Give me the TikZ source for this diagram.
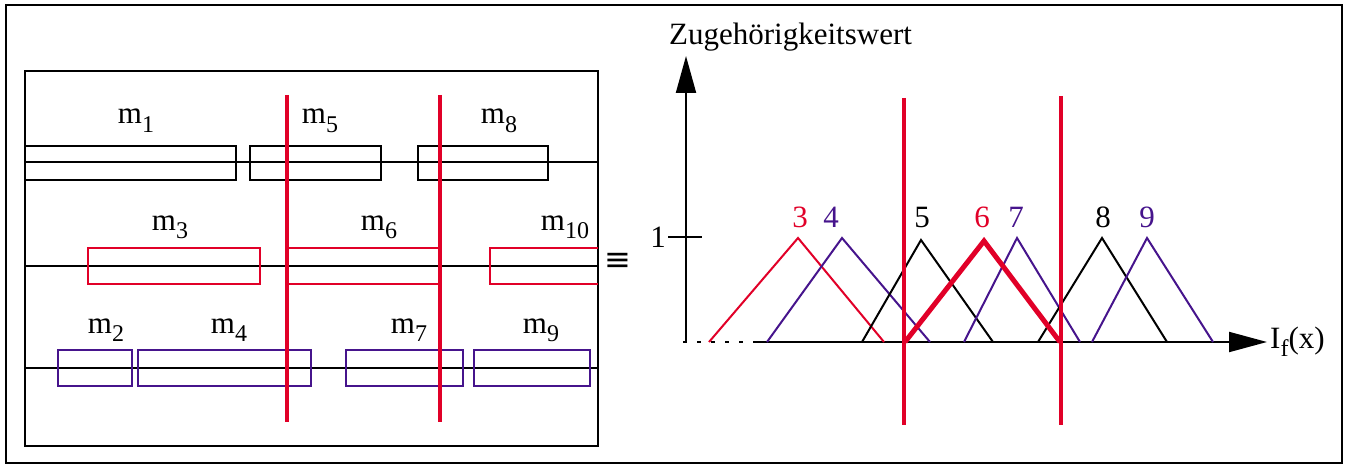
\documentclass[tikz,border=0pt]{standalone}
\usepackage{fontspec}
\setmainfont{Liberation Serif}
\newfontfamily\symfont{DejaVu Sans}
\usetikzlibrary{arrows.meta}
\definecolor{fred}{RGB}{225,0,40}
\definecolor{fpurple}{RGB}{70,20,140}
\newcommand\sbs[1]{\raisebox{-0.27em}{\fontsize{24}{24}\selectfont #1}}
\tikzset{
  lbl/.style={inner sep=0pt, font=\fontsize{31}{36}\selectfont},
  frame/.style={draw=black, line width=2pt},
  rowline/.style={draw=black, line width=2pt},
  bbox/.style={draw=black, line width=2pt},
  rbox/.style={draw=fred, line width=2pt},
  pbox/.style={draw=fpurple, line width=2pt},
  cut/.style={draw=fred, line width=4.5pt},
  tri/.style={line width=2pt, line join=miter},
  axis/.style={draw=black, line width=2pt},
}
\begin{document}
\begin{tikzpicture}[x=1pt,y=-1pt]
\useasboundingbox (0,0) rectangle (1352,468);
% outer frame
\draw[frame] (6,5) rectangle (1342,463);
% inner box
\draw[frame] (25,71) rectangle (598,446);
% row lines
\draw[rowline] (25,162) -- (598,162);
\draw[rowline] (25,266) -- (598,266);
\draw[rowline] (25,368) -- (598,368);
% row 1 boxes
\draw[bbox] (25,146) rectangle (236,180);
\draw[bbox] (250,146) rectangle (381,180);
\draw[bbox] (418,146) rectangle (548,180);
% row 2 boxes
\draw[rbox] (88,248) rectangle (260,284);
\draw[rbox] (287,248) rectangle (440,284);
\draw[rbox] (598,248) -- (490,248) -- (490,284) -- (598,284);
% row 3 boxes
\draw[pbox] (58,350) rectangle (132,386);
\draw[pbox] (138,350) rectangle (311,386);
\draw[pbox] (346,350) rectangle (463,386);
\draw[pbox] (474,350) rectangle (590,386);
% red cut lines left
\draw[cut] (287,95) -- (287,422);
\draw[cut] (440,95) -- (440,422);
% labels left
\node[lbl, anchor=base] (m1) at (136,124) {m\sbs{1}};
\node[lbl, anchor=base] (m5) at (320,124) {m\sbs{5}};
\node[lbl, anchor=base] (m8) at (499,124) {m\sbs{8}};
\node[lbl, anchor=base] (m3) at (170,230) {m\sbs{3}};
\node[lbl, anchor=base] (m6) at (379,230) {m\sbs{6}};
\node[lbl, anchor=base] (m10) at (565,230) {m\sbs{10}};
\node[lbl, anchor=base] (m2) at (106,333) {m\sbs{2}};
\node[lbl, anchor=base] (m4) at (229,333) {m\sbs{4}};
\node[lbl, anchor=base] (m7) at (409,333) {m\sbs{7}};
\node[lbl, anchor=base] (m9) at (541,333) {m\sbs{9}};
% equivalence
\node[inner sep=0pt, font=\symfont\fontsize{32}{36}\selectfont] (eq) at (618,262) {≡};
% axes
\coordinate (o) at (686,342);
\coordinate (ytip) at (686,56);
\coordinate (xs) at (757,342);
\coordinate (xtip) at (1267,342);
\coordinate (xd) at (683,342);
\draw[axis, -{Triangle[length=37pt,width=20pt]}] (o) -- (ytip);
\draw[axis, -{Triangle[length=38pt,width=20pt]}] (xs) -- (xtip);
\draw[axis, dash pattern=on 4pt off 10pt] (xd) -- (xs);
\node[lbl, anchor=base west] (ylab) at (669,45) {Zugehörigkeitswert};
\node[lbl, anchor=west] (xlab) at (1270,342) {I\sbs{f}(x)};
\coordinate (t1) at (668,237);
\coordinate (t2) at (702,237);
\draw[axis] (t1) -- (t2);
\node[lbl] (one) at (658,237) {1};
% triangles
\draw[tri, fred] (709,342) -- (798,238) -- (884,342);
\draw[tri, fpurple] (767,342) -- (842,238) -- (930,342);
\draw[tri, black] (862,342) -- (921,240) -- (993,342);
\draw[tri, fpurple] (964,342) -- (1017,238) -- (1080,342);
\draw[tri, black] (1038,342) -- (1102,238) -- (1167,342);
\draw[tri, fpurple] (1092,342) -- (1147,238) -- (1213,342);
\draw[fred, line width=5pt, line join=miter] (905,342) -- (984,241) -- (1060,342);
% red cut lines right
\draw[cut] (904,98) -- (904,425);
\draw[cut] (1061,96) -- (1061,425);
% triangle labels
\node[lbl, anchor=base, text=fred] (n3) at (800,227) {3};
\node[lbl, anchor=base, text=fpurple] (n4) at (831,227) {4};
\node[lbl, anchor=base, text=black] (n5) at (922,227) {5};
\node[lbl, anchor=base, text=fred] (n6) at (982,227) {6};
\node[lbl, anchor=base, text=fpurple] (n7) at (1016,227) {7};
\node[lbl, anchor=base, text=black] (n8) at (1103,227) {8};
\node[lbl, anchor=base, text=fpurple] (n9) at (1147,227) {9};
\end{tikzpicture}
\end{document}
